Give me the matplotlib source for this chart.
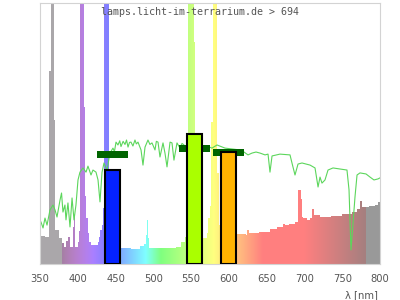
import matplotlib
matplotlib.use('Agg')
import matplotlib.pyplot as plt
import numpy as np

# lamp spectrum (step values, relative height of the plot area)
spec_nm = [350, 357, 362.5, 364.5, 369, 370.5, 374.5, 378.5, 381.5, 385, 387, 389.5,
           393.5, 394.5, 396.5, 399.7, 401, 402.3, 403.5, 408.8, 409.6, 411.5, 413.2,
           415.5, 417.7, 424.3, 426.2, 428, 430, 432, 433.7, 434.5, 441, 446,
           457, 470, 482, 488, 490, 491.5, 493, 494.5, 530, 537, 541.5, 544, 545, 546,
           553.5, 555, 558, 566, 570.5, 572.7, 575, 576, 579, 584.5, 587, 611, 622, 624, 627,
           640, 654, 664, 671, 674, 680, 687, 692, 695, 697, 698.5, 703, 708,
           709.5, 713, 720, 735, 750, 763, 770, 773.5, 776, 780, 786, 793, 798, 800]
spec_val = [0.107, 0.103, 0.74, 1.3, 0.55, 0.13, 0.10, 0.08, 0.067, 0.09, 0.105, 0.067,
            0.14, 0.18, 0.067, 0.085, 0.125, 0.215, 1.3, 0.6, 0.26, 0.176, 0.119,
            0.085, 0.073, 0.073, 0.085, 0.105, 0.13, 0.15, 0.215, 1.3, 0.30, 0.07,
            0.06, 0.058, 0.07, 0.075, 0.11, 0.17, 0.10, 0.06, 0.065, 0.085, 0.105, 0.118, 0.2, 1.3,
            0.85, 0.30, 0.12, 0.098, 0.119, 0.176, 0.222, 0.544, 1.3, 0.35, 0.15, 0.114, 0.11, 0.13, 0.12,
            0.124, 0.134, 0.143, 0.155, 0.149, 0.152, 0.16, 0.284, 0.25, 0.18, 0.175, 0.168, 0.175,
            0.21, 0.188, 0.18, 0.184, 0.192, 0.20, 0.21, 0.24, 0.22, 0.22, 0.222, 0.226, 0.236, 0.24]

# reference (daylight) curve
sun_nm = [351.3, 354, 356.6, 359.3, 363.2, 367.2, 369.9, 372.5, 376.5, 378.5, 380.4, 383,
          384.4, 387, 389.7, 392.4, 395, 397.6, 400.3, 402.9, 406.9, 410.9, 413.5, 417.5,
          420.1, 424.1, 426.8, 429.4, 432.1, 434.7, 438.7, 442.6, 446.6, 448.5, 450.6, 453.2,
          455.5, 457.2, 460, 462.5, 464.5, 466.5, 468.5, 470.4, 473, 475.7, 477.5, 479.7,
          483.7, 486.3, 489, 492.9, 495.5, 498.2, 502.2, 504, 506.2, 508.8, 512.8, 515.4,
          518.1, 522.1, 524.7, 527.3, 531.3, 535.3, 538, 540.6, 544,
          548.5, 561.8, 565.7, 571, 577.6, 584.3, 594.9, 614.7, 620, 625.3, 630.6, 635.9,
          641.2, 647.8, 651.8, 654.4, 657.1, 667.6, 680.9, 683.5, 687.5, 691.5, 696.8,
          707.4, 714, 718, 720.6, 723.2, 727.2, 731.2, 737.8, 747, 756.3, 759, 761.6,
          764.3, 766.9, 769.6, 773.5, 781.5, 786.8, 792, 797.4, 800]
sun_val = [0.161, 0.138, 0.176, 0.149, 0.207, 0.226, 0.207, 0.180, 0.245, 0.272, 0.199, 0.226,
           0.169, 0.234, 0.142, 0.253, 0.169, 0.226, 0.322, 0.352, 0.368, 0.352, 0.375, 0.341,
           0.360, 0.352, 0.322, 0.238, 0.352, 0.387, 0.360, 0.425, 0.444, 0.430, 0.467, 0.456,
           0.472, 0.450, 0.470, 0.458, 0.475, 0.448, 0.466, 0.467, 0.452, 0.475, 0.460, 0.467,
           0.437, 0.379, 0.448, 0.475, 0.458, 0.464, 0.437, 0.470, 0.467, 0.410, 0.464, 0.425,
           0.372, 0.467, 0.464, 0.398, 0.464, 0.444, 0.462, 0.456, 0.440,
           0.452, 0.452, 0.448, 0.452, 0.444, 0.456, 0.444, 0.437, 0.429, 0.418, 0.425, 0.429,
           0.425, 0.418, 0.421, 0.352, 0.414, 0.421, 0.418, 0.387, 0.341, 0.383, 0.387,
           0.379, 0.368, 0.295, 0.333, 0.310, 0.322, 0.360, 0.368, 0.364, 0.360, 0.284, 0.054,
           0.157, 0.257, 0.341, 0.349, 0.345, 0.333, 0.322, 0.326, 0.330]

# LED bars and reference levels
bar_nm = [446, 554.5, 599.5]
bar_val = [0.36, 0.50, 0.431]
bar_colors = ['#0522ff', '#aaff00', '#ffb400']
ref_val = [0.4195, 0.443, 0.428]

xticks = [350, 400, 450, 500, 550, 600, 650, 700, 750, 800]
title = 'lamps.licht-im-terrarium.de > 694'


def wl_color(w):
    # pastel wavelength colour (half way to white), grey outside 380-780
    if w < 378.5:
        return (0.67, 0.655, 0.67)
    if w > 781:
        return (0.6, 0.6, 0.6)
    w = min(max(w, 380), 780)
    if w < 440:
        r, g, b = (440 - w) / 60, 0, 1
    elif w < 490:
        r, g, b = 0, (w - 440) / 50, 1
    elif w < 510:
        r, g, b = 0, 1, (510 - w) / 20
    elif w < 580:
        r, g, b = (w - 510) / 70, 1, 0
    elif w < 645:
        r, g, b = 1, (645 - w) / 65, 0
    else:
        r, g, b = 1, 0, 0
    if w < 420:
        f = 0.3 + 0.7 * (w - 380) / 40
    elif w > 700:
        f = 0.3 + 0.7 * (780 - w) / 80
    else:
        f = 1.0
    return (0.5 + 0.5 * r * f, 0.5 + 0.5 * g * f, 0.5 + 0.5 * b * f)


fig = plt.figure(figsize=(4, 3), dpi=100)
ax = fig.add_axes([0.1, 0.12, 0.85, 0.87])

# coloured spectrum fill: gradient image clipped to the step outline
fill = ax.fill_between(spec_nm, spec_val, step='post', facecolor='none',
                       edgecolor='none', zorder=1)
ww = np.arange(350, 800.01, 0.25)
grad = np.array([wl_color(w) for w in ww])[np.newaxis, :, :]
im = ax.imshow(grad, extent=[350, 800, 0, 1.4], aspect='auto', origin='lower',
               interpolation='nearest', zorder=1)
im.set_clip_path(fill.get_paths()[0], transform=ax.transData)

ax.plot(sun_nm, sun_val, color='#5cd65c', lw=0.8, zorder=2)

ax.bar(bar_nm, 0.0257, width=41, bottom=np.array(ref_val) - 0.0128,
       color='#006400', zorder=3)
ax.bar(bar_nm, bar_val, width=19, color=bar_colors, edgecolor='black',
       linewidth=1.5, zorder=4)

ax.set_xlim(350, 800)
ax.set_ylim(0, 1)
ax.set_xticks(xticks)
ax.set_xticklabels([str(t) for t in xticks])
ax.set_yticks([])
ax.tick_params(axis='x', length=0, pad=7, labelsize=7.2, labelcolor='#555555')
for sp in ax.spines.values():
    sp.set_color('#d3d3d3')
    sp.set_linewidth(0.8)

fig.text(0.5, 0.96, title, ha='center', va='center', family='DejaVu Sans Mono',
         fontsize=7.2, color='#555555', zorder=10)
fig.text(0.945, 1 - 295 / 300, 'λ [nm]', ha='right', va='center',
         fontsize=7.2, color='#555555')

fig.savefig('out.png', dpi=100)
